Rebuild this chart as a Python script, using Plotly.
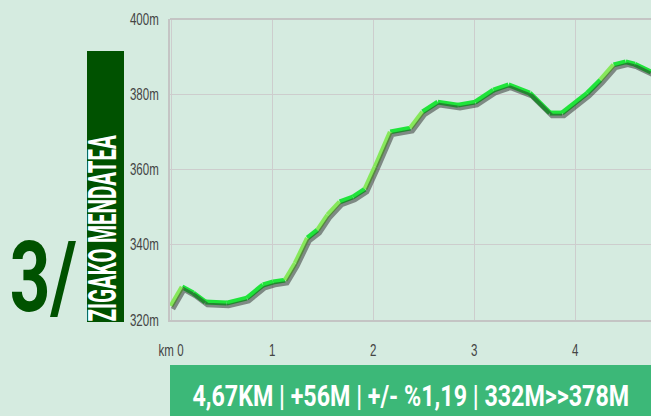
import json
import plotly.graph_objects as go

# ---- data ----
distance_km = [0.00, 0.11, 0.22, 0.34, 0.55, 0.75, 0.91, 1.01, 1.13, 1.23, 1.35, 1.45,
               1.55, 1.67, 1.80, 1.92, 2.02, 2.17, 2.37, 2.49, 2.64, 2.84, 3.01, 3.19,
               3.34, 3.55, 3.75, 3.87, 4.12, 4.25, 4.38, 4.50, 4.59, 4.75]
elevation_m = [323.7, 328.8, 327.2, 324.8, 324.5, 325.8, 329.3, 330.1, 330.6, 335.1, 341.8, 343.9,
               347.9, 351.4, 352.7, 354.8, 360.7, 370.0, 371.0, 375.3, 377.9, 377.1, 377.9, 381.1,
               382.5, 380.3, 375.0, 375.0, 380.3, 383.8, 387.8, 388.6, 388.0, 385.9]
x_tickvals = [0, 1, 2, 3, 4]
x_ticktext = ["km 0", "1", "2", "3", "4"]
y_tickvals = [320, 340, 360, 380, 400]
y_ticktext = ["320m", "340m", "360m", "380m", "400m"]
stage_number = "3/"
stage_name = "ZIGAKO MENDATEA"
summary = "4,67KM | +56M | +/- %1,19 | 332M>>378M"

# ---- style ----
BG = "#d5ebe0"
DARK = "#005200"
BANNER = "#3cb878"
COND = "Roboto, Liberation Sans, sans-serif"
TICKF = "Liberation Sans, Arial, sans-serif"
W, H = 651, 416
L, T, B = 170, 19, 96
plot_w, plot_h = W - L, H - T - B
XR = [-0.01, 4.75]
YR = [320, 400]

def px_x(p):
    return (p - L) / plot_w

def px_y(p):
    return (H - B - p) / plot_h

fig = go.Figure()

# shadow (same data drawn on an overlaid axis whose range is nudged a few pixels)
dx = 2 * (XR[1] - XR[0]) / plot_w
dy = 3 * (YR[1] - YR[0]) / plot_h
fig.add_trace(go.Scatter(x=distance_km, y=elevation_m, mode="lines", xaxis="x2", yaxis="y2",
                         line=dict(color="rgba(40,40,40,0.5)", width=4.5),
                         hoverinfo="skip", showlegend=False))

# coloured line segments by gradient
groups = {"#1fe43a": ([], []), "#86e85a": ([], []), "#d6ea2c": ([], [])}
for i in range(len(distance_km) - 1):
    g = (elevation_m[i + 1] - elevation_m[i]) / ((distance_km[i + 1] - distance_km[i]) * 1000) * 100
    if g >= 7.5:
        c = "#d6ea2c"
    elif g >= 2.8:
        c = "#86e85a"
    else:
        c = "#1fe43a"
    xs, ys = groups[c]
    xs += [distance_km[i], distance_km[i + 1], None]
    ys += [elevation_m[i], elevation_m[i + 1], None]
for c, (xs, ys) in groups.items():
    fig.add_trace(go.Scatter(x=xs, y=ys, mode="lines", line=dict(color=c, width=5),
                             hoverinfo="skip", showlegend=False))

# decorations
shapes = [
    dict(type="rect", xref="paper", yref="paper", x0=px_x(87), x1=px_x(124), y0=px_y(322), y1=px_y(51),
         fillcolor=DARK, line=dict(width=0), layer="below"),
    dict(type="rect", xref="paper", yref="paper", x0=px_x(170), x1=px_x(651), y0=px_y(416), y1=px_y(365),
         fillcolor=BANNER, line=dict(width=0), layer="below"),
    dict(type="line", xref="paper", yref="paper", x0=0, x1=1, y0=1, y1=1,
         line=dict(color="#c4c4c4", width=2)),
]
annotations = [
    dict(text=stage_number, xref="paper", yref="paper", x=px_x(43.5), y=px_y(277), showarrow=False,
         font=dict(family=COND, size=98, color=DARK, weight=700), xanchor="center", yanchor="middle"),
    dict(text=stage_name, xref="paper", yref="paper", x=px_x(103), y=px_y(228),
         textangle=-90, showarrow=False, font=dict(family=COND, size=39, color="white", weight=700),
         xanchor="center", yanchor="middle"),
    dict(text=summary, xref="paper", yref="paper", x=px_x(411), y=px_y(395),
         showarrow=False, font=dict(family=COND, size=30, color="white", weight=700),
         xanchor="center", yanchor="middle"),
]

fig.update_layout(
    width=W, height=H, margin=dict(l=L, r=0, t=T, b=B),
    paper_bgcolor=BG, plot_bgcolor=BG,
    shapes=shapes, annotations=annotations, showlegend=False,
    xaxis=dict(range=XR, tickvals=x_tickvals, ticktext=x_ticktext, showgrid=True,
               gridcolor="#cdcdcd", gridwidth=1, zeroline=False, showline=True,
               linecolor="#c4c4c4", linewidth=2, ticks="", ticklabelstandoff=15,
               tickfont=dict(family=TICKF, size=16, color="#444")),
    yaxis=dict(range=YR, tickvals=y_tickvals, ticktext=y_ticktext, showgrid=True,
               gridcolor="#cdcdcd", gridwidth=1, zeroline=False, showline=True,
               linecolor="#c4c4c4", linewidth=2, ticks="", ticklabelstandoff=6,
               tickfont=dict(family=TICKF, size=16, color="#444")),
    xaxis2=dict(range=[XR[0] - dx, XR[1] - dx], overlaying="x", visible=False),
    yaxis2=dict(range=[YR[0] + dy, YR[1] + dy], overlaying="y", visible=False),
)

# condensed look: squeeze texts horizontally to the widths seen in the reference
targets = {stage_number: 67, stage_name: 187, summary: 437}
post = """
document.body.style.margin = '0';
var gd = document.getElementById('{plot_id}');
var targets = %s;
gd.querySelectorAll('text.annotation-text').forEach(function(t){
  var w = targets[t.textContent];
  if (w) {
    var bw = t.getBBox().width;
    t.style.transformBox = 'fill-box';
    t.style.transformOrigin = 'center';
    t.style.transform = 'scaleX(' + (w / bw) + ')';
  }
});
gd.querySelectorAll('g.xtick text, g.ytick text').forEach(function(t){
  var tr = t.getAttribute('transform') || '';
  var m = tr.match(/translate\\(\\s*([-\\d.e]+)[\\s,]*([-\\d.e]*)\\s*\\)/);
  var a = m ? parseFloat(m[1]) : 0, b = (m && m[2]) ? parseFloat(m[2]) : 0;
  var isY = t.parentNode.classList.contains('ytick');
  t.style.transformBox = 'fill-box';
  t.style.transformOrigin = isY ? 'right center' : 'center';
  t.style.transform = 'translate(' + a + 'px,' + b + 'px) scaleX(0.72)';
});
""" % json.dumps(targets)

fig.write_html("out.html", post_script=post, config={"displayModeBar": False})
